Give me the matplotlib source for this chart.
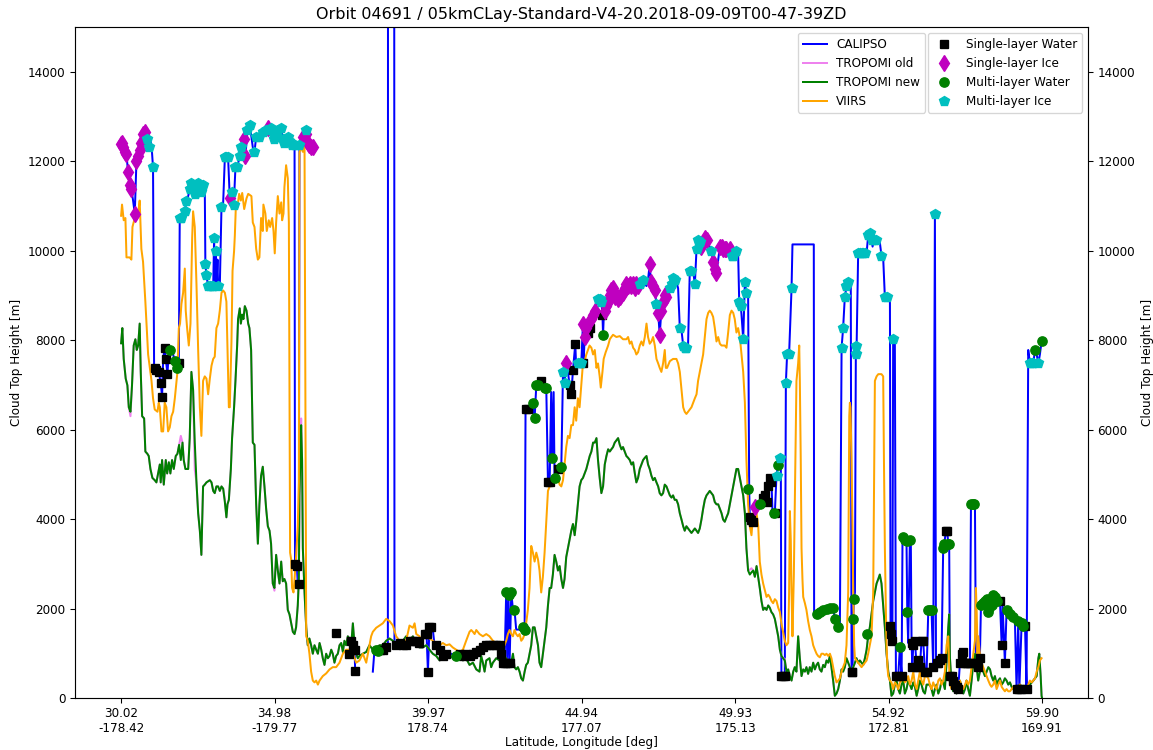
import numpy as np
import matplotlib
matplotlib.use("Agg")
import matplotlib.pyplot as plt

plt.rcParams["font.size"] = 9
nan = np.nan

title = "Orbit 04691 / 05kmCLay-Standard-V4-20.2018-09-09T00-47-39ZD"
tick_pos = [0, 100, 200, 300, 400, 500, 600]
tick_lat = ["30.02", "34.98", "39.97", "44.94", "49.93", "54.92", "59.90"]
tick_lon = ["-178.42", "-179.77", "178.74", "177.07", "175.13", "172.81", "169.91"]

calipso = [
(0,12380),(0.5,12400),(1.3,12310),(2.4,12210),(3.5,12160),(4.5,11760),(5.6,11470),(6.7,11370),(7.8,11120),(8.9,10830),
(10.0,12010),(11.1,12110),(12.1,12260),(13.2,12400),(14.3,12600),(15.4,12650),(17.1,12500),(18.0,12310),(19.1,12450),(19.8,12360),
(20.8,11860),(21.5,7380),(23.0,7330),(24.5,7290),(25.8,7040),(26.7,6740),(27.4,7580),(28.4,7830),(29.1,7580),(30.2,7240),
(30.6,7480),(31.7,7780),(33.9,7680),(35.0,7530),(36.7,7380),(37.6,7480),(38.2,10730),(39.3,10730),(41.5,10880),(42.6,11120),
(43.7,11220),(44.7,11370),(45.8,11520),(46.9,11420),(48.0,11270),(49.1,11370),(50.2,11520),(51.3,11420),(52.3,11320),(53.4,11470),
(54.5,11470),(54.9,9700),(55.6,9450),(56.7,9200),(58.9,9200),(60.0,9200),(60.6,10290),(61.0,9200),(61.5,9990),(62.1,9200),
(62.8,9800),(63.2,9200),(64.3,9200),(65.4,10980),(66.5,11080),(67.6,12090),(69.7,12090),(70.8,11170),(71.9,11270),(72.3,11320),
(73.4,11030),(74.5,11860),(75.6,11860),(77.3,12110),(78.4,12310),(79.5,12450),(80.2,12500),(81.0,12110),(82.3,12700),(83.9,12800),
(85.8,12310),(86.9,12210),(88.0,12550),(90.1,12550),(92.3,12650),(94.5,12700),(95.6,12750),(97.7,12750),(98.8,12650),(99.9,12500),
(101.0,12550),(102.1,12700),(104.3,12750),(105.3,12500),(106.4,12400),(107.5,12500),(108.6,12550),(109.7,12450),(111.4,12360),(113.0,12360),
(113.3,2950),(114.5,2950),(115.1,2560),(115.8,2800),(116.2,12360),(118.4,12550),(120.6,12600),(121.6,12400),(122.7,12360),(123.8,12310),
(124.9,12310),(125.5,nan),
(148.8,985),(149.9,1280),(151.0,1180),(152.1,1080),(152.5,610),(153.0,nan),
(164.0,590),(165.1,1080),(166.2,1080),(168.4,1080),(170.5,1080),(172.7,1130),(173.8,1130),(173.9,20000),(177.9,20000),(178.1,1180),
(179.2,1180),(181.4,1230),(183.6,1180),(185.7,1180),(187.9,1280),(190.1,1280),(192.2,1280),(194.4,1230),(196.6,1380),(197.7,1430),
(199.0,1430),(199.9,590),(200.9,1580),(202.0,1580),(203.1,1530),(204.2,1180),(205.3,1180),(206.4,1080),(207.5,1080),(209.6,940),
(211.8,990),(215.1,990),(217.2,940),(218.3,940),(219.4,890),(220.5,990),(222.7,940),(224.8,990),(227.0,940),(229.2,990),
(231.4,1030),(233.5,1080),(235.7,1130),(237.9,1180),(240.0,1180),(244.4,1180),(246.6,1180),(247.7,990),(248.7,790),(249.8,790),
(250.9,2360),(251.6,790),(252.4,2310),(253.1,790),(254.2,2360),(255.3,1970),(256.3,1970),(257.4,1530),(259.6,1530),(261.8,1580),
(262.9,1530),(263.5,6500),(265.0,6450),(267.2,6500),(268.3,6600),(269.4,6250),(270.5,6990),(271.6,6990),(273.7,7090),(275.9,6940),
(277.0,6940),(278.1,4820),(279.2,4820),(280.2,6840),(280.9,5370),(281.8,6840),(282.4,4920),(283.5,5070),(284.6,5120),(286.8,5170),
(287.9,7290),(288.9,7040),(290.0,7480),(291.1,7290),(292.2,6990),(293.3,6790),(294.4,7330),(295.9,7920),(296.5,7380),(297.6,7480),
(298.7,7480),(299.8,7480),(300.9,8370),(301.3,7480),(302.0,8070),(303.1,8270),(304.2,8170),(305.3,8270),(306.4,8470),(307.5,8570),
(308.6,8660),(310.7,8910),(311.8,8910),(312.9,8860),(313.6,8570),(314.0,8120),(314.7,8760),(315.1,8660),(316.2,8760),(317.3,8860),
(318.4,9010),(319.4,9110),(320.5,9160),(321.6,8960),(322.7,9010),(323.8,8910),(324.9,8960),(326.0,9010),(327.0,9060),(328.1,9160),
(329.2,9250),(330.3,9210),(331.4,9250),(332.5,9210),(333.6,9250),(334.7,9160),(335.7,9250),(336.8,9210),(337.9,9250),(339.0,9300),
(340.1,9350),(341.2,9250),(342.3,9210),(343.3,9350),(344.4,9700),(344.9,9450),(345.5,9300),(346.6,9210),(347.7,9110),(348.8,8810),
(349.4,8760),(349.9,8610),(350.9,8120),(352.0,8660),(353.1,8860),(354.2,9010),(355.3,8960),(356.4,8860),(357.5,9160),(358.6,9250),
(359.6,9400),(360.7,9350),(361.8,9300),(362.9,9160),(364.0,8270),(365.1,8220),(366.2,7880),(367.2,7830),(368.3,7830),(369.4,7920),
(370.5,9550),(372.7,9550),(373.8,9250),(374.9,10040),(375.9,10240),(377.0,10190),(378.1,10090),(379.2,10190),(380.3,10290),(381.4,10240),
(382.5,10140),(383.5,10090),(384.6,9990),(385.7,9750),(386.8,9600),(387.9,9500),(389.0,9800),(390.1,10090),(391.2,10090),(392.2,10040),
(394.4,10040),(395.5,10090),(396.6,10040),(397.7,9890),(398.8,9890),(399.8,9940),(400.9,9990),(402.0,9940),(402.7,8860),(403.7,8760),
(404.2,8570),(405.3,8020),(406.4,9300),(407.4,9060),(408.5,9060),(409.2,4680),(409.6,4040),(410.7,3990),(411.8,3940),(412.9,4280),
(414.0,4280),(415.1,4330),(416.1,4330),(417.2,4430),(418.3,4480),(419.4,4530),(420.5,4380),(421.6,4730),(422.6,4920),(423.1,4820),
(423.7,4870),(424.4,4130),(425.9,4130),(427.0,4970),(428.1,5220),(429.2,5370),(429.8,5320),(430.2,490),(432.4,490),(433.1,7040),
(433.9,7680),(435.2,7680),(436.8,9160),(437.4,10140),(451.3,10140),(451.5,1920),(453.1,1870),(455.2,1920),(457.4,1970),(459.6,1990),
(461.8,2020),(463.9,2020),(465.0,1770),(466.1,1620),(467.2,1580),(468.3,1620),(469.4,7830),(470.4,8270),(471.5,8960),(472.6,9200),
(473.7,9300),(474.8,9350),(475.4,9160),(475.9,590),(476.5,590),(477.0,1770),(477.4,2210),(478.1,2360),(478.7,7880),(479.1,7680),
(480.2,9940),(485.7,9940),(486.7,10340),(487.8,10390),(488.9,10240),(489.6,10090),(490.4,10240),(493.3,10240),(494.3,10190),(495.4,9890),
(496.5,9840),(497.6,8960),(498.7,8960),(499.8,8910),(500.9,8860),(501.3,1620),(501.9,1430),(502.5,1280),(503.0,8020),(504.1,8020),
(504.8,490),(506.3,490),(507.4,1130),(508.5,490),(509.1,3590),(510.6,3540),(511.7,3500),(512.2,1920),(512.8,1230),(513.9,3540),
(514.5,3540),(515.0,1230),(515.5,690),(516.1,1180),(517.2,1280),(518.3,690),(519.3,840),(520.4,690),(521.5,1280),(522.6,1280),
(523.7,590),(524.8,590),(525.9,1970),(528.0,1970),(529.1,690),(530.2,10830),(530.9,790),(532.4,790),(533.5,840),(534.5,890),
(535.6,3350),(536.3,3450),(537.4,3740),(538.2,3740),(538.9,3450),(539.5,3450),(540.0,490),(541.1,490),(542.1,390),(543.2,300),
(544.3,250),(545.4,200),(546.5,790),(547.6,990),(548.7,1030),(549.8,790),(553.0,790),(553.7,4330),(555.8,4330),(556.3,4280),
(556.9,790),(557.4,790),(558.4,690),(559.5,890),(560.2,2070),(561.3,2120),(562.8,2170),(563.9,2210),(565.0,1920),(565.6,2020),
(567.1,2070),(568.2,2310),(569.3,2260),(570.4,2170),(571.5,2070),(572.6,2170),(573.7,1180),(574.3,2070),(575.8,790),(576.9,1970),
(578.0,1920),(579.1,1870),(580.2,1820),(581.3,1820),(582.3,1770),(583.4,200),(584.5,1720),(585.2,200),(586.7,1670),(587.8,1620),
(588.9,1620),(589.9,200),(591.0,7780),(592.1,7480),(594.3,7480),(595.4,7780),(596.5,7680),(597.6,7480),(598.6,7680),(599.7,7970),
(600.0,7970)]

tropomi_new = [
(0,7930),(0.8,8270),(1.7,7580),(3.0,7140),(4.1,6990),(5.0,6500),(6.1,6400),(7.1,6990),(8.2,7880),(9.3,8020),
(10.2,7780),(11.1,7880),(12.1,8370),(12.8,7290),(13.7,6300),(15.0,6250),(15.8,5510),(17.1,5460),(18.0,5410),(19.1,5120),
(20.4,4920),(21.9,4870),(23.0,4820),(24.1,5020),(25.2,5220),(25.8,4820),(26.7,5320),(27.8,4770),(29.1,5320),(30.0,5020),
(31.1,5270),(32.1,5020),(33.2,5320),(34.3,5120),(35.6,5410),(36.7,5460),(37.8,5660),(38.9,5320),(40.0,5710),(40.8,5320),
(41.9,5120),(43.7,5120),(44.7,5810),(45.8,7290),(46.9,6890),(48.0,5710),(49.1,4820),(50.2,4130),(51.3,3740),(52.3,3200),
(53.4,4730),(54.5,4770),(55.6,4820),(57.8,4870),(58.9,4820),(60.0,4630),(61.0,4580),(62.1,4730),(63.2,4730),(64.3,4630),
(65.4,4730),(66.5,4680),(67.6,4380),(68.6,4040),(69.3,4330),(70.2,4430),(71.5,5120),(72.3,5810),(73.6,6500),(74.5,7090),
(75.6,7880),(76.2,8470),(77.3,8710),(78.0,8370),(78.9,8570),(79.7,8470),(80.6,8760),(81.7,8660),(82.8,8370),(83.6,8270),
(84.7,7780),(85.8,5710),(86.9,5660),(88.0,4330),(89.1,3450),(90.1,4330),(91.2,4970),(92.3,5170),(93.4,4730),(94.5,4230),
(95.6,3840),(96.7,3740),(97.7,3450),(98.8,2560),(99.9,2460),(101.0,3200),(102.1,2850),(103.2,2560),(104.3,3050),(105.3,2610),
(106.4,2660),(107.5,2560),(108.6,1970),(109.7,1870),(110.8,1670),(111.9,1480),(113.0,1430),(114.0,1580),(115.1,2070),(115.8,2660),
(116.2,4530),(117.3,6100),(117.9,5320),(118.4,3350),(119.5,2360),(120.6,1580),(121.6,1180),(122.7,1330),(123.8,1180),(124.9,990),
(126.0,1180),(127.1,1080),(128.2,990),(129.3,1230),(130.4,1080),(131.4,890),(132.5,740),(133.6,990),(134.7,890),(135.8,940),
(136.9,1080),(137.9,990),(139.0,790),(140.1,940),(141.2,990),(142.3,1180),(143.4,1230),(144.5,1030),(145.5,1280),(146.6,1180),
(147.7,1380),(148.8,1330),(149.9,1180),(151.0,1670),(152.1,1180),(153.2,990),(154.2,890),(155.3,940),(157.5,990),(159.7,1030),
(161.8,1180),(164.0,1080),(166.2,1130),(168.4,1180),(170.5,1180),(172.7,1280),(174.9,1330),(177.1,1280),(179.2,1230),(181.4,1180),
(183.6,1280),(185.7,1380),(187.9,1280),(190.1,1380),(192.3,1180),(194.4,1130),(196.6,1130),(198.8,1180),(200.9,1080),(203.1,990),
(205.3,940),(207.5,840),(209.6,890),(211.8,990),(214.0,890),(216.1,940),(218.3,890),(220.5,940),(222.7,840),(224.8,890),
(227.0,740),(229.2,790),(231.4,640),(233.5,590),(234.6,940),(235.7,790),(236.8,590),(237.9,840),(240.0,890),(241.1,690),
(242.2,790),(244.4,890),(246.6,840),(248.7,940),(250.9,890),(253.1,690),(254.2,790),(255.3,990),(256.3,690),(257.4,640),
(258.5,690),(259.6,590),(260.7,440),(261.8,390),(262.9,590),(263.9,740),(265.0,790),(266.1,990),(267.2,1180),(268.3,1580),
(269.4,1580),(270.5,1380),(271.6,1180),(272.6,790),(273.7,690),(274.8,990),(275.9,1280),(277.0,1580),(278.1,2070),(279.2,2460),
(280.2,2460),(281.3,2760),(282.4,3200),(283.5,3050),(284.6,2850),(285.7,2950),(286.8,2660),(287.9,2460),(288.9,2660),(290.0,3150),
(291.1,3350),(292.2,3540),(293.3,3740),(294.4,3890),(295.5,3640),(296.5,3940),(297.6,4330),(298.7,4730),(299.8,4870),(300.9,4920),
(302.0,5020),(303.1,5120),(305.3,5410),(306.4,5510),(307.5,5710),(308.6,5710),(309.7,5810),(310.7,5320),(311.8,4920),(312.9,4580),
(314.0,4730),(315.1,5220),(316.2,5410),(317.3,5560),(318.4,5510),(319.4,5560),(320.5,5610),(321.6,5710),(322.7,5760),(323.8,5810),
(324.9,5660),(326.0,5560),(327.0,5610),(328.1,5510),(329.2,5410),(330.3,5370),(331.4,5320),(332.5,5220),(333.6,5270),(334.7,5020),
(335.7,4820),(336.8,4920),(337.9,5120),(339.0,5220),(340.1,5320),(341.2,5370),(342.3,5410),(343.3,5220),(344.4,5120),(345.5,4970),
(346.6,4870),(347.7,4920),(348.8,4820),(349.9,4730),(350.9,4580),(352.0,4530),(353.1,4580),(354.2,4770),(355.3,4730),(356.4,4630),
(357.5,4530),(358.6,4480),(359.6,4530),(360.7,4430),(361.8,4430),(362.9,4330),(364.0,4130),(365.1,3990),(366.2,3840),(367.2,3740),
(368.3,3840),(369.4,3790),(370.5,3740),(371.6,3690),(372.7,3740),(373.8,3790),(374.9,3740),(375.9,3690),(377.0,3790),(378.1,3990),
(379.2,4230),(380.3,4430),(381.4,4530),(382.5,4580),(383.5,4630),(384.6,4580),(385.7,4530),(386.8,4380),(387.9,4330),(389.0,4330),
(390.1,4230),(391.2,4130),(392.2,3990),(393.3,3940),(394.4,4040),(395.5,4130),(396.6,4330),(397.7,4530),(398.8,4730),(399.8,4920),
(400.9,5120),(402.0,5120),(403.1,4920),(404.2,4730),(405.3,4530),(406.4,4130),(407.4,3350),(408.5,2850),(409.6,2760),(410.7,2810),
(411.8,2850),(412.9,2710),(414.0,2950),(415.1,2700),(416.1,2460),(417.2,2170),(418.3,1970),(419.4,2020),(420.5,1970),(421.6,2070),
(422.6,2020),(423.7,1920),(424.8,1870),(425.9,1770),(427.0,1580),(428.1,1380),(429.2,1080),(430.2,940),(431.3,890),(432.4,840),
(433.5,590),(434.6,640),(435.7,490),(436.8,390),(437.9,590),(438.9,690),(440.0,590),(441.1,1380),(442.2,890),(443.3,490),
(444.4,640),(445.5,590),(446.5,690),(447.6,540),(448.7,690),(449.8,590),(450.9,790),(452.0,640),(453.1,740),(454.1,790),
(455.2,640),(456.3,590),(457.4,740),(458.5,690),(459.6,840),(460.7,790),(461.8,940),(462.8,690),(463.9,390),(465.0,50),
(466.1,100),(467.2,200),(468.3,390),(469.4,640),(470.4,590),(471.5,690),(472.6,890),(473.7,790),(474.8,690),(475.9,590),
(477.0,690),(478.1,790),(479.1,890),(480.2,790),(481.3,840),(482.4,790),(483.5,740),(484.6,890),(485.7,1080),(486.7,1380),
(487.8,1580),(488.9,1870),(490.0,2170),(491.1,2360),(492.2,2560),(493.3,2660),(494.3,2760),(495.4,2560),(496.5,2070),(497.6,1580),
(498.7,990),(499.8,590),(500.9,390),(501.9,50),(503.0,100),(504.1,300),(505.2,390),(506.3,200),(507.4,100),(508.5,300),
(509.6,390),(510.6,100),(511.7,200),(512.8,390),(513.9,300),(515.0,200),(516.1,350),(517.2,250),(518.3,50),(519.3,200),
(520.4,390),(521.5,300),(522.6,150),(523.7,100),(524.8,300),(526.9,300),(528.0,200),(529.1,50),(530.2,200),(531.3,300),
(532.4,100),(533.5,200),(534.5,390),(535.6,350),(536.7,200),(537.8,790),(538.9,1580),(539.5,1870),(540.0,890),(541.1,300),
(542.1,150),(543.2,200),(544.3,100),(545.4,300),(546.5,390),(547.6,250),(548.7,100),(549.8,200),(550.8,390),(551.9,200),
(553.0,50),(554.1,390),(555.2,790),(556.3,990),(557.4,690),(558.4,390),(559.5,590),(560.6,690),(561.7,590),(562.8,490),
(563.9,590),(565.0,690),(566.1,640),(567.1,490),(568.2,390),(569.3,490),(570.4,300),(571.5,390),(572.6,440),(573.7,300),
(574.7,350),(575.8,440),(576.9,390),(578.0,300),(579.1,350),(580.2,250),(581.3,200),(582.3,150),(583.4,200),(585.6,300),
(587.8,200),(589.9,150),(592.1,300),(594.3,390),(596.5,490),(597.6,890),(598.2,990),(599.1,490),(599.7,50),(600.0,0)]

# TROPOMI old follows TROPOMI new except where it visibly departs
tropomi_old_diff = [(6.1,6300),(39.3,5860),(48.0,5100),(67.6,4430),(99.9,2400),(117.3,6250),
                    (409.6,2870),(410.7,2900),(432.4,880),(546.5,300)]

viirs = [
(0,10780),(0.6,11030),(1.7,10680),(2.8,10730),(3.5,9850),(5.6,9850),(6.7,9800),(7.4,10530),(8.9,10730),(10.4,10780),
(11.1,10830),(12.1,11120),(13.2,10040),(14.3,9750),(15.8,8860),(17.6,7680),(19.8,7090),(20.8,6700),(21.9,6450),(23.7,6400),
(24.5,6600),(25.2,6500),(26.3,5960),(27.4,5960),(28.4,6600),(29.5,6500),(30.6,5960),(31.7,6050),(32.8,6300),(33.9,6400),
(35.0,6700),(36.7,7290),(37.6,8270),(38.4,8370),(39.3,8810),(40.4,9060),(41.5,9600),(42.1,8660),(43.0,8270),(44.1,7880),
(45.2,8370),(46.3,10290),(46.9,10880),(48.0,10530),(49.1,9250),(50.2,7780),(51.3,6500),(52.3,5860),(53.4,7090),(54.5,7190),
(55.6,7140),(56.7,6790),(57.8,7140),(58.9,7430),(60.0,7580),(61.0,7630),(62.1,8270),(63.2,8370),(64.3,8660),(65.4,9060),
(66.5,9110),(67.6,9060),(68.6,8860),(69.3,7780),(70.2,6500),(70.8,6500),(71.9,7970),(72.6,9550),(73.6,9990),(74.1,10340),
(74.7,10930),(75.8,10980),(76.9,11270),(78.0,11120),(78.9,11290),(80.2,10930),(81.7,11170),(82.8,11270),(84.9,11220),(85.8,10630),
(86.9,10530),(88.0,10040),(89.1,9800),(90.1,9850),(91.2,10730),(92.3,10440),(92.7,11030),(94.0,10830),(94.9,10440),(96.2,10680),
(97.1,10530),(98.4,10730),(99.3,10440),(100.1,9940),(101.0,10630),(102.1,11220),(103.2,10830),(104.3,11080),(104.9,10680),(105.8,10830),
(106.4,11420),(107.5,11910),(108.6,11620),(109.3,10630),(110.1,3250),(110.8,3100),(111.4,2460),(112.3,2360),(113.0,2660),(114.0,3150),
(115.1,3840),(115.8,4820),(116.2,12200),(117.3,12310),(118.4,12210),(119.5,12310),(120.6,1380),(121.6,1280),(122.7,990),(123.8,590),
(124.9,390),(126.0,350),(127.1,390),(128.2,300),(129.3,390),(131.4,490),(133.6,550),(135.8,640),(137.9,690),(140.1,690),
(142.3,790),(144.5,990),(146.6,1080),(148.8,1080),(151.0,990),(152.1,890),(153.2,790),(155.3,840),(157.5,990),(159.7,790),
(161.8,1180),(162.9,1380),(164.0,1480),(166.2,1570),(168.4,1620),(170.5,1670),(172.7,1770),(174.9,1720),(177.1,1620),(179.2,1380),
(181.4,1280),(183.6,1180),(185.7,1280),(187.9,1620),(190.1,1570),(191.2,1670),(192.3,1430),(194.4,1380),(195.5,1280),(197.7,1480),
(198.8,1380),(200.9,1330),(203.1,1280),(205.3,1230),(207.5,1180),(209.6,1230),(211.8,1180),(214.0,1200),(216.1,1130),(218.3,1080),
(220.5,1030),(222.7,1080),(224.8,1280),(227.0,1480),(228.1,1520),(229.2,1480),(230.3,1430),(231.4,1520),(233.5,1430),(235.7,1380),
(237.9,1430),(240.0,1380),(242.2,1280),(244.4,1230),(246.6,1180),(248.7,1130),(249.8,1180),(250.9,1280),(252.0,1430),(253.1,1520),
(254.2,1430),(255.3,1380),(256.3,1520),(257.4,1430),(258.5,1380),(259.6,1430),(260.7,1280),(261.8,1330),(262.9,1430),(263.9,1670),
(265.0,1970),(266.1,2460),(267.2,3400),(268.3,3250),(269.4,3050),(270.5,3250),(271.6,3100),(272.6,2850),(273.7,2360),(274.8,2710),
(275.9,3250),(277.0,3940),(278.1,4630),(279.2,4730),(280.2,4820),(281.3,4970),(282.4,4920),(283.5,4820),(284.6,4920),(285.7,4770),
(286.8,4730),(287.9,4870),(288.9,5220),(290.0,5610),(291.1,5860),(292.2,5810),(293.3,6100),(294.4,6100),(295.5,6500),(296.5,6200),
(297.6,6700),(298.7,6500),(299.8,6990),(300.9,7480),(302.0,7530),(303.1,7680),(305.2,7880),(306.4,7830),(307.5,7680),(308.6,7780),
(309.7,7380),(310.7,7480),(311.8,7190),(312.5,6940),(313.6,7290),(314.4,7580),(315.7,7730),(317.3,7880),(318.4,8020),(319.4,8070),
(320.5,8120),(322.7,8070),(324.9,8090),(327.0,8020),(329.2,8020),(330.3,8070),(331.4,7920),(332.5,7970),(333.6,7830),(334.7,7780),
(335.7,7680),(336.8,7730),(337.9,7880),(339.0,7970),(340.1,7880),(341.2,8070),(342.3,8370),(343.3,8070),(344.4,7920),(345.5,7970),
(346.6,8070),(347.7,7880),(348.8,7580),(349.9,7480),(350.9,7380),(352.0,7290),(353.1,7480),(354.2,7780),(354.9,7380),(355.7,7380),
(357.5,7530),(359.6,7580),(361.8,7580),(362.9,7480),(364.0,7290),(365.1,6890),(366.2,6500),(367.2,6400),(368.3,6350),(369.4,6400),
(370.5,6450),(371.6,6500),(372.7,6600),(373.8,6700),(374.9,6790),(375.9,7090),(377.0,7290),(378.1,7480),(379.2,7680),(380.3,8070),
(381.4,8470),(382.5,8610),(383.5,8660),(384.6,8610),(385.7,8520),(386.8,8270),(387.9,7970),(389.0,8070),(390.1,7920),(391.2,7880),
(393.3,7880),(394.4,7830),(395.5,8170),(396.6,8560),(397.7,8660),(398.8,8610),(399.8,8470),(400.9,8170),(402.0,8270),(403.1,8070),
(404.2,7680),(405.3,7290),(406.4,6600),(407.4,5320),(408.5,4330),(409.6,3840),(410.7,3640),(411.8,4130),(412.9,4040),(414.0,4130),
(415.1,3840),(416.1,3050),(417.2,2760),(418.3,2560),(419.4,2410),(420.5,2260),(421.6,2310),(422.6,2260),(423.7,2170),(424.8,2120),
(425.9,2210),(427.0,2170),(428.1,2020),(429.2,1920),(430.2,1670),(431.3,1480),(432.4,1280),(433.5,1180),(434.6,1230),(435.2,2360),
(435.7,4180),(436.3,3540),(436.8,2360),(437.4,1380),(438.3,2760),(438.9,4330),(439.6,6300),(440.0,7090),(441.1,7480),(441.8,7880),
(442.2,7090),(442.8,5320),(443.3,3350),(443.9,2660),(444.4,2260),(445.5,2120),(446.5,1970),(447.6,1720),(448.7,1520),(449.8,1380),
(450.9,1180),(452.0,1080),(453.1,990),(454.1,940),(455.2,910),(456.3,990),(457.4,990),(458.5,960),(459.6,990),(460.7,940),
(461.8,990),(462.8,890),(463.9,690),(465.0,490),(466.1,350),(467.2,390),(468.3,440),(469.4,590),(470.4,690),(471.5,790),
(472.6,1180),(473.7,2360),(474.4,6300),(474.8,6600),(475.2,6500),(475.9,5320),(476.5,3840),(477.0,2360),(477.6,1180),(478.1,890),
(479.1,840),(480.2,790),(481.3,740),(482.4,690),(483.5,740),(484.6,790),(485.7,840),(486.7,990),(487.8,1180),(488.9,1380),
(490.0,2360),(491.1,7090),(492.2,7190),(493.3,7240),(495.4,7240),(496.5,7190),(497.0,5320),(497.6,3350),(498.3,1870),(498.7,1180),
(499.3,690),(499.8,490),(500.9,390),(501.9,350),(503.0,200),(504.1,350),(505.2,300),(506.3,200),(507.4,350),(508.5,390),
(509.6,490),(510.6,350),(511.7,390),(512.8,490),(513.9,300),(515.0,390),(516.1,590),(517.2,300),(518.3,200),(519.3,390),
(520.4,590),(521.5,390),(522.6,300),(523.7,490),(524.8,490),(525.9,440),(526.9,300),(528.0,200),(529.1,350),(530.2,250),
(531.3,200),(532.4,390),(533.5,440),(534.5,300),(535.6,390),(536.7,590),(537.8,1180),(538.9,1380),(539.5,690),(540.0,300),
(541.1,200),(542.1,250),(543.2,390),(544.3,350),(545.4,300),(546.5,390),(547.6,250),(548.7,200),(549.8,300),(550.8,390),
(551.9,300),(553.0,390),(554.1,690),(555.2,990),(556.3,1280),(556.9,2460),(557.4,1970),(558.0,990),(558.4,1380),(559.5,990),
(560.6,790),(561.7,690),(562.8,590),(563.9,490),(565.0,390),(566.1,300),(567.1,250),(568.2,300),(569.3,390),(570.4,200),
(571.5,300),(572.6,390),(573.7,250),(574.7,200),(575.8,150),(576.9,200),(578.0,150),(579.1,150),(580.2,200),(581.3,250),
(582.3,200),(583.4,150),(584.5,200),(585.6,300),(586.7,200),(587.8,250),(588.9,200),(589.9,150),(591.0,300),(592.1,390),
(593.2,350),(594.3,390),(595.4,440),(596.5,590),(597.6,690),(598.6,840),(599.7,890)]

single_water = [
(21.9,7380),(23.0,7330),(24.5,7290),(25.8,7040),(26.7,6740),(28.4,7830),(29.1,7580),(30.2,7240),(37.6,7480),
(113.6,3000),(114.5,2950),(115.8,2560),(140.1,1460),(148.8,985),(149.9,1280),(151.0,1180),(152.1,1080),(152.5,610),
(168.4,1080),(170.5,1080),(172.7,1130),(179.2,1180),(181.4,1230),(183.6,1180),(185.7,1180),(187.9,1280),(190.1,1280),
(192.2,1280),(194.4,1230),(197.7,1430),(199.0,1430),(199.9,590),(200.9,1580),(202.0,1580),(205.3,1180),(207.5,1080),
(209.6,940),(211.8,990),(220.5,990),(222.7,940),(224.8,990),(227.0,940),(229.2,990),(231.4,1030),(233.5,1080),(235.7,1130),
(237.9,1180),(240.0,1180),(242.2,1180),(244.4,1180),(246.6,1180),(247.7,990),(248.7,790),(249.8,790),(251.6,790),(253.1,790),
(264.0,6450),(265.0,6450),(273.7,7090),(278.1,4820),(279.2,4820),(284.6,5120),(292.2,6990),(293.3,6790),(294.4,7330),
(295.9,7920),(301.0,7480),(304.2,8170),(305.3,8270),(313.6,8570),(409.6,4040),(410.7,3990),(411.8,3940),(418.3,4480),
(419.4,4530),(420.5,4380),(421.6,4730),(422.6,4920),(423.1,4820),(425.9,4130),(430.2,490),(431.3,490),(432.4,490),
(475.9,590),(476.5,590),(500.9,1620),(501.9,1430),(502.5,1280),(504.8,490),(506.3,490),(508.5,490),(515.0,1230),(515.5,690),
(516.1,1180),(517.2,1280),(518.3,690),(519.3,840),(520.4,690),(521.5,1280),(522.6,1280),(523.7,590),(524.8,590),(529.1,690),
(531.3,790),(532.4,790),(533.5,840),(534.5,890),(537.4,3740),(538.2,3740),(540.0,490),(541.1,490),(542.1,390),(543.2,300),
(544.3,250),(545.4,200),(546.5,790),(547.6,990),(548.7,1030),(549.8,790),(550.8,790),(551.9,790),(553.0,790),(556.9,790),
(557.4,790),(558.4,690),(559.5,890),(572.6,2170),(573.7,1180),(575.8,790),(583.4,200),(585.2,200),(586.2,200),(588.9,1620),
(589.9,200)]

single_ice = [
(0,12380),(0.5,12400),(1.3,12310),(2.4,12210),(3.5,12160),(4.5,11760),(5.6,11470),(6.7,11370),(8.9,10830),(10.0,12010),
(11.1,12110),(12.1,12260),(13.2,12400),(14.3,12600),(15.4,12650),(70.8,11170),(80.2,12500),(81.0,12110),(95.6,12750),
(118.4,12550),(120.6,12600),(121.6,12400),(122.7,12360),(123.8,12310),(124.9,12310),(290.0,7480),(300.9,8370),(302.0,8070),
(303.1,8270),(306.4,8470),(307.5,8570),(308.6,8660),(315.1,8660),(316.2,8760),(317.3,8860),(318.4,9010),(319.4,9110),
(320.5,9160),(321.6,8960),(322.7,9010),(323.8,8910),(324.9,8960),(326.0,9010),(327.0,9060),(328.1,9160),(329.2,9250),
(330.3,9210),(331.4,9250),(332.5,9210),(333.6,9250),(334.7,9160),(335.7,9250),(336.8,9210),(344.4,9700),(345.5,9300),
(346.6,9210),(347.7,9110),(349.9,8610),(350.9,8120),(352.0,8660),(353.1,8860),(354.2,9010),(355.3,8960),(378.1,10090),
(380.3,10290),(381.4,10240),(385.7,9750),(386.8,9600),(387.9,9500),(390.1,10090),(391.2,10090),(392.2,10040),(393.3,10040),
(394.4,10040),(396.6,10040),(412.9,4280)]

multi_water = [
(31.7,7780),(35.0,7530),(36.7,7380),(166.2,1080),(167.3,1060),(218.3,940),(250.9,2360),(252.4,2310),(254.2,2360),
(256.3,1970),(261.8,1580),(262.9,1530),(268.3,6600),(269.4,6250),(270.5,6990),(271.6,6990),(275.9,6940),(277.0,6940),
(280.9,5370),(282.4,4920),(286.8,5170),(314.0,8120),(408.5,4680),(416.1,4330),(425.2,4130),(428.1,5220),(453.1,1870),
(455.2,1920),(457.4,1970),(459.6,1990),(461.8,2020),(463.9,2020),(465.0,1770),(467.2,1580),(477.0,1770),(477.4,2210),
(485.7,1430),(507.4,1130),(509.6,3590),(510.6,3540),(511.7,3500),(512.2,1920),(513.9,3540),(525.9,1970),(526.9,1970),
(528.0,1970),(535.6,3350),(536.3,3450),(538.9,3450),(539.5,3450),(553.7,4330),(554.8,4330),(555.8,4330),(560.2,2070),
(561.3,2120),(562.8,2170),(563.9,2210),(565.0,1920),(565.6,2020),(567.1,2070),(568.2,2310),(569.3,2260),(570.4,2170),
(576.9,1970),(579.1,1870),(581.3,1820),(584.5,1720),(586.7,1670),(587.8,1620),(595.4,7780),(599.7,7970)]

multi_ice = [
(17.1,12500),(18.0,12310),(20.8,11860),(38.2,10730),(39.3,10730),(41.5,10880),(42.6,11120),(44.7,11370),(45.8,11520),
(46.9,11420),(48.0,11270),(49.1,11370),(50.2,11520),(52.3,11320),(53.4,11470),(54.5,9700),(55.6,9450),(56.7,9200),
(57.8,9200),(58.9,9200),(60.0,9200),(60.6,10290),(61.5,9990),(63.2,9200),(65.4,10980),(67.6,12090),(68.6,12090),(69.7,12090),
(72.3,11320),(73.4,11030),(74.5,11860),(75.6,11860),(77.3,12110),(78.4,12310),(82.3,12700),(83.9,12800),(86.9,12210),
(88.0,12550),(90.1,12550),(92.3,12650),(94.5,12700),(97.7,12750),(98.8,12650),(99.9,12500),(101.0,12550),(102.1,12700),
(104.3,12750),(105.3,12500),(106.4,12400),(107.5,12500),(108.6,12550),(109.7,12450),(111.4,12360),(113.0,12360),(116.2,12360),
(120.6,12700),(287.9,7290),(288.9,7040),(297.6,7480),(298.7,7480),(299.8,7480),(310.7,8910),(311.8,8910),(312.9,8860),
(337.9,9250),(340.1,9350),(348.8,8810),(357.5,9160),(358.6,9250),(359.6,9400),(360.7,9350),(364.0,8270),(366.2,7880),
(367.2,7830),(368.3,7830),(370.5,9550),(371.6,9550),(373.8,9250),(374.9,10040),(375.9,10240),(377.0,10190),(384.6,9990),
(397.7,9890),(398.8,9890),(400.9,9990),(402.7,8860),(403.7,8760),(405.3,8020),(406.4,9300),(407.4,9060),(427.0,4970),
(429.2,5370),(433.1,7040),(433.9,7680),(435.2,7680),(436.8,9160),(469.4,7830),(470.4,8270),(471.5,8960),(472.6,9200),
(473.7,9300),(478.7,7880),(479.1,7680),(480.2,9940),(481.3,9940),(482.4,9940),(483.5,9940),(484.6,9940),(486.7,10340),
(487.8,10390),(488.9,10240),(490.4,10240),(491.7,10240),(495.4,9890),(497.6,8960),(498.7,8960),(503.0,8020),(530.2,10830),
(592.1,7480),(593.2,7480),(594.3,7480),(597.6,7480)]


def xy(pairs):
    a = np.array(pairs, dtype=float)
    return a[:, 0], a[:, 1]


fig = plt.figure(figsize=(1153 / 96, 750 / 96), dpi=96)
ax = fig.add_axes([0.0651, 0.0693, 0.8786, 0.8947])

cx, cy = xy(calipso)
nx, ny = xy(tropomi_new)
ox, oy = nx.copy(), ny.copy()
for px, py in tropomi_old_diff:
    oy[np.argmin(np.abs(ox - px))] = py
vx, vy = xy(viirs)

ax.plot(cx, cy, color="blue", lw=1.5, label="CALIPSO")
ax.plot(ox, oy, color="violet", lw=1.5, label="TROPOMI old")
ax.plot(nx, ny, color="green", lw=1.5, label="TROPOMI new")
ax.plot(vx, vy, color="orange", lw=1.5, label="VIIRS")

ax.set_xlim(-30, 630)
ax.set_ylim(0, 15000)
ax.set_xticks(tick_pos)
ax.set_xticklabels([f"{a}\n{b}" for a, b in zip(tick_lat, tick_lon)])
ax.tick_params(axis="x", pad=3)
ax.set_xlabel("Latitude, Longitude [deg]", labelpad=1)
ax.set_ylabel("Cloud Top Height [m]")
ax.set_title(title, fontsize=12)

ax2 = ax.twinx()
ax2.set_ylim(0, 15000)
ax2.set_ylabel("Cloud Top Height [m]")
for pts, mk, col, ms, lab in [
    (single_water, "s", "black", 6.5, "Single-layer Water"),
    (single_ice, "d", "m", 8.5, "Single-layer Ice"),
    (multi_water, "o", "green", 7, "Multi-layer Water"),
    (multi_ice, "p", "c", 7.5, "Multi-layer Ice"),
]:
    mx, my = xy(pts)
    ax2.plot(mx, my, linestyle="none", marker=mk, color=col, ms=ms, label=lab)

ax.legend(loc="upper right", bbox_to_anchor=(0.845, 1.0))
ax2.legend(loc="upper right")

fig.savefig("out.png", dpi=96)
